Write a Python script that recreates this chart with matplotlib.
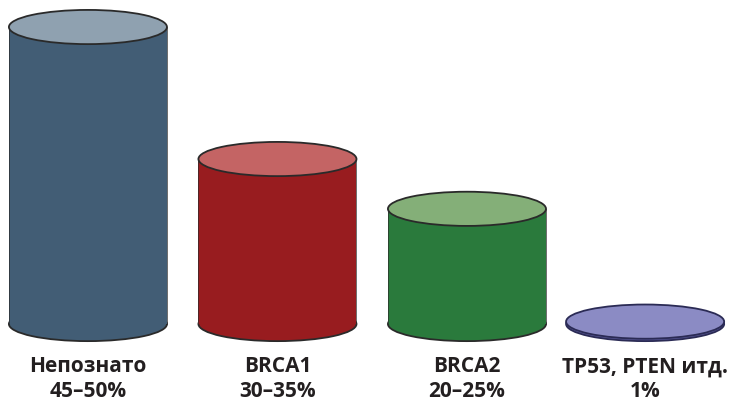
import matplotlib.pyplot as plt
from matplotlib.patches import Ellipse, Rectangle
import numpy as np

# gene groups and their share of hereditary cases
genes = ['Непознато', 'BRCA1', 'BRCA2', 'TP53, PTEN итд.']
shares = ['45–50%', '30–35%', '20–25%', '1%']
heights = [49.5, 27.5, 19.2, 0.4]

side_colors = ['#425d75', '#981c1f', '#2a7a3c', '#5a5a9a']
top_colors = ['#8fa1b0', '#c46464', '#84af78', '#8b8bc4']
edge_colors = ['#2a2a2a', '#2a2a2a', '#2a2a2a', '#2b2b55']

x_pos = [0, 1, 2, 2.94]
rx = 0.417   # half width of a cylinder
ry = 2.85    # half height of the elliptic caps


def cylinder(ax, x, h, side, top, edge):
	# bottom cap (only its lower half shows)
	ax.add_patch(Ellipse((x, 0), 2 * rx, 2 * ry, facecolor=side, edgecolor=edge, lw=1.3, zorder=1))
	# body
	ax.add_patch(Rectangle((x - rx, 0), 2 * rx, h, facecolor=side, edgecolor='none', zorder=2))
	ax.plot([x - rx, x - rx], [0, h], color=edge, lw=0.6, alpha=0.8, zorder=3)
	ax.plot([x + rx, x + rx], [0, h], color=edge, lw=0.6, alpha=0.8, zorder=3)
	# top cap
	ax.add_patch(Ellipse((x, h), 2 * rx, 2 * ry, facecolor=top, edgecolor=edge, lw=1.3, zorder=4))


fig = plt.figure(figsize=(7.34, 4.02), dpi=100)
ax = fig.add_axes([0, 0, 1, 1])
ax.set_xlim(-0.464, 3.409)
ax.set_ylim(-12.83, 54.17)
ax.axis('off')

for i in range(len(genes)):
	cylinder(ax, x_pos[i], heights[i], side_colors[i], top_colors[i], edge_colors[i])
	ax.text(x_pos[i], -6.95, genes[i], ha='center', va='center', fontsize=15,
		fontweight='bold', family='Open Sans', color='#231f20')
	ax.text(x_pos[i], -11.1, shares[i], ha='center', va='center', fontsize=15,
		fontweight='bold', family='Open Sans', color='#231f20')

fig.savefig('out.png', dpi=100)
